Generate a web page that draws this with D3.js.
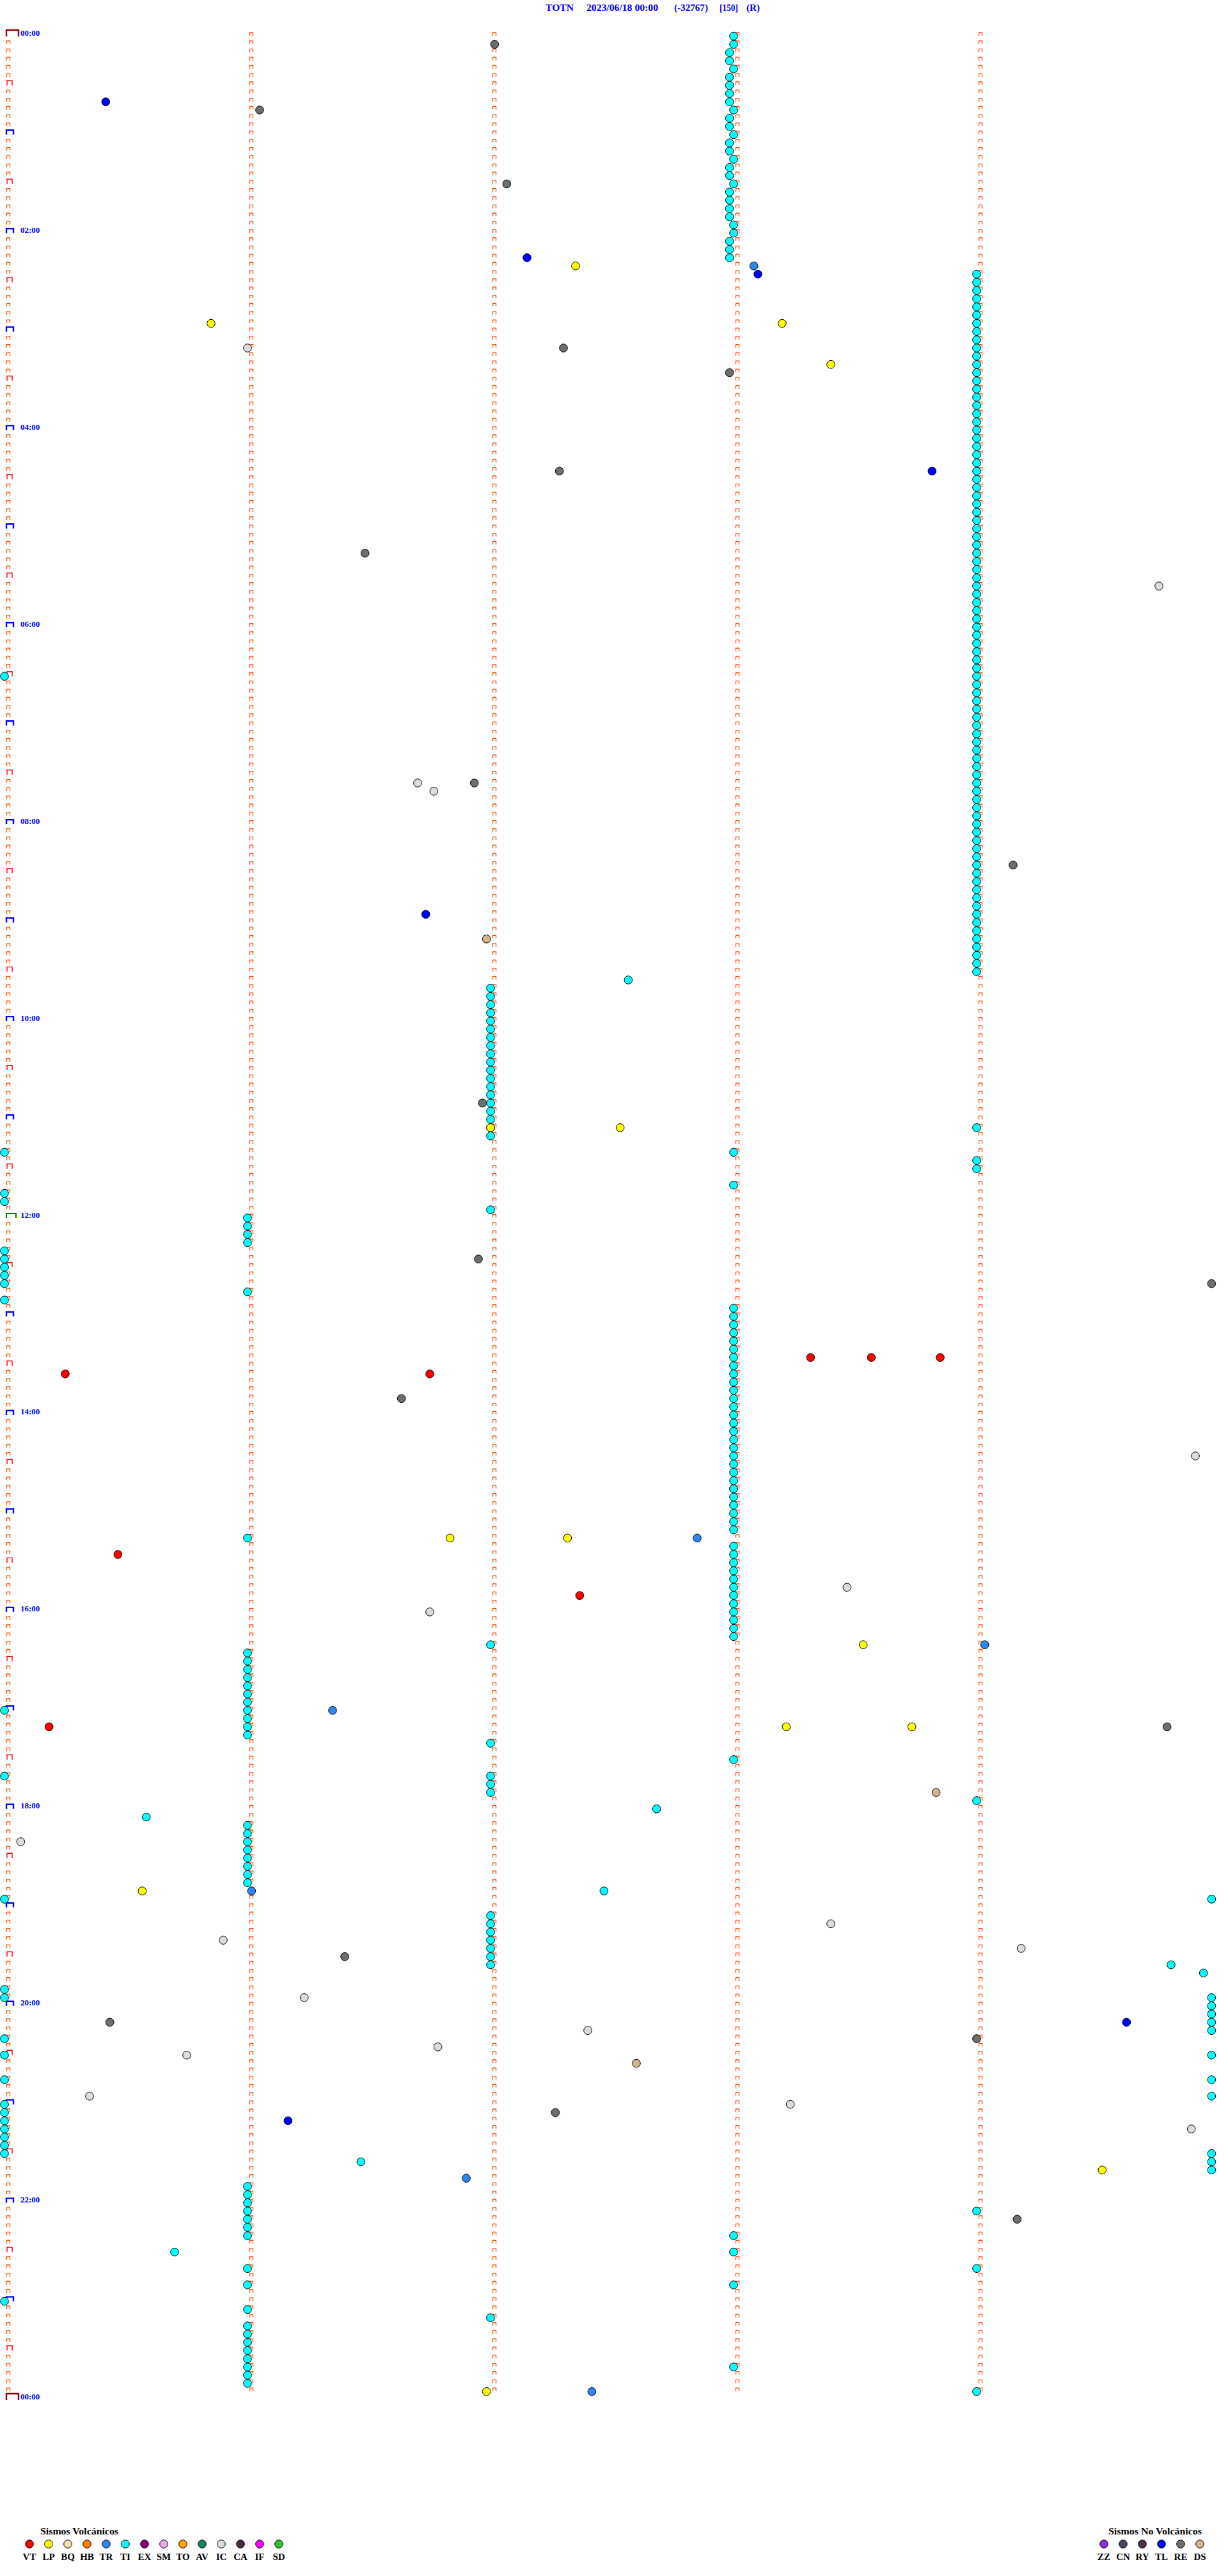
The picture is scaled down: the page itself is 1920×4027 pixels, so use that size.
<!DOCTYPE html>
<html><head><meta charset="utf-8">
<script src="https://cdn.jsdelivr.net/npm/d3@7"></script>
<style>body{margin:0;background:#fff}svg{display:block}</style>
</head><body><svg id="c" width="1920" height="4027"></svg>
<script>
// ---------------- DATA ----------------
const headerParts = ["TOTN", "2023/06/18 00:00", "(-32767)", "[150]", "(R)"];
const hourLabels = ["00:00","02:00","04:00","06:00","08:00","10:00","12:00","14:00","16:00","18:00","20:00","22:00","00:00"];
const rowMinutes = 5;          // each trace line spans 5 minutes
const rowCount = 288;          // 24 h
const volcCodes = ["VT","LP","BQ","HB","TR","TI","EX","SM","TO","AV","IC","CA","IF","SD"];
const nonVolcCodes = ["ZZ","CN","RY","TL","RE","DS"];

const eventsVT = ["13:28:19","13:28:34","13:28:51","13:35:15","13:36:45","15:25:28","15:52:22","17:10:11"];
const eventsLP = ["02:22:21","02:55:51","02:58:12","03:23:24","11:07:00","11:07:32","15:16:50","15:17:19",
  "16:23:32","17:13:13","17:13:44","18:50:34","21:44:31","23:56:59"];
const eventsTR = ["02:23:05","15:17:51","16:24:02","17:01:21","18:51:01","21:46:54","23:57:25"];
const eventsTI = (
  "00:03:00 00:08:00 00:12:59 00:17:59 00:23:00 00:27:59 00:32:59 00:37:59 00:42:59 00:48:00 00:52:59 00:57:59 " +
  "01:03:00 01:07:59 01:12:59 01:18:00 01:22:59 01:27:59 01:33:00 01:37:59 01:42:59 01:47:59 01:52:59 01:58:00 " +
  "02:03:00 02:07:59 02:12:59 02:17:59 " +
  "02:29:00 02:34:00 02:39:00 02:44:00 02:49:00 02:54:00 02:59:00 03:04:00 03:09:00 03:14:00 03:19:00 03:24:00 " +
  "03:29:00 03:34:00 03:39:00 03:44:00 03:49:00 03:54:00 03:59:00 04:04:00 04:09:00 04:14:00 04:19:00 04:24:00 " +
  "04:29:00 04:34:00 04:39:00 04:44:00 04:49:00 04:54:00 04:59:00 05:04:00 05:09:00 05:14:00 05:19:00 05:24:00 " +
  "05:29:00 05:34:00 05:39:00 05:44:00 05:49:00 05:54:00 05:59:00 06:04:00 06:09:00 06:14:00 06:19:00 06:24:00 " +
  "06:29:00 06:34:00 06:39:00 06:44:00 06:49:00 06:54:00 06:59:00 07:04:00 07:09:00 07:14:00 07:19:00 07:24:00 " +
  "07:29:00 07:34:00 07:39:00 07:44:00 07:49:00 07:54:00 07:59:00 08:04:00 08:09:00 08:14:00 08:19:00 08:24:00 " +
  "08:29:00 08:34:00 08:39:00 08:44:00 08:49:00 08:54:00 08:59:00 09:04:00 09:09:00 09:14:00 09:19:00 09:24:00 " +
  "09:29:00 09:34:00 " +
  "06:30:00 09:37:34 " +
  "09:42:00 09:47:00 09:52:00 09:57:00 10:02:00 10:07:00 10:12:00 10:17:00 10:22:00 10:27:00 10:32:00 10:37:00 " +
  "10:42:00 10:47:00 10:52:00 10:57:00 11:02:00 11:07:00 11:12:00 " +
  "11:09:00 11:20:00 11:23:00 11:29:00 11:34:00 11:43:00 11:45:00 11:50:00 11:57:00 " +
  "12:01:00 12:06:00 12:11:00 12:16:00 12:20:00 12:25:00 12:30:00 12:35:00 12:40:00 12:46:00 12:50:00 " +
  "12:58:00 13:03:00 13:08:00 13:13:00 13:18:00 13:23:00 13:28:00 13:33:00 13:38:00 13:43:00 13:48:00 13:53:00 " +
  "13:58:00 14:03:00 14:08:00 14:13:00 14:18:00 14:23:00 14:28:00 14:33:00 14:38:00 14:43:00 14:48:00 14:53:00 " +
  "14:58:00 15:03:00 15:08:00 15:13:00 15:23:00 15:28:00 15:33:00 15:38:00 15:43:00 15:48:00 " +
  "15:53:00 15:58:00 16:03:00 16:08:00 16:13:00 16:18:00 " +
  "15:16:00 16:22:00 " +
  "16:26:00 16:31:00 16:36:00 16:41:00 16:46:00 16:51:00 16:56:00 17:01:00 17:06:00 17:11:00 17:16:00 " +
  "17:00:00 17:22:00 17:33:00 17:40:00 17:42:00 17:47:00 17:52:00 17:59:00 18:02:41 18:05:35 " +
  "18:11:00 18:16:00 18:21:00 18:26:00 18:31:00 18:36:00 18:41:00 18:46:00 " +
  "18:52:28 18:55:00 18:59:58 " +
  "19:07:00 19:12:00 19:17:00 19:22:00 19:27:00 19:32:00 19:37:00 19:39:48 19:44:56 " +
  "19:50:00 19:55:00 19:59:58 20:04:58 20:09:58 20:14:58 20:19:58 20:20:00 20:30:00 20:34:58 20:45:00 20:49:58 " +
  "20:59:58 21:00:00 21:05:00 21:10:00 21:15:00 21:20:00 21:25:00 21:30:00 21:34:58 21:36:28 21:39:58 21:44:58 " +
  "21:51:00 21:56:00 22:01:00 22:06:00 22:11:00 22:16:00 22:21:00 22:09:00 22:23:00 22:30:42 22:33:00 " +
  "22:41:00 22:44:00 22:51:00 22:53:00 23:00:00 23:06:00 23:12:00 " +
  "23:16:00 23:21:00 23:26:00 23:31:00 23:36:00 23:41:00 23:46:00 23:51:00 23:43:00 23:59:00"
).split(" ");
const eventsTL = ["00:40:25","02:17:09","02:28:06","04:28:49","08:56:44","20:14:37","21:11:10"];
const eventsRE = ["00:07:01","00:46:03","01:32:04","03:12:18","03:27:59","04:27:17","05:16:29","07:36:56",
  "08:29:09","10:51:58","12:26:57","12:44:58","13:51:38","17:14:47","19:31:24","20:10:26","20:24:00",
  "21:07:16","22:14:10"];
const eventsIC = ["03:11:00","05:39:45","07:36:42","07:41:46","14:29:54","14:48:00","15:48:28","16:01:45",
  "18:20:04","19:13:24","19:20:54","19:29:11","19:56:14","20:17:24","20:26:47","20:30:45","20:55:21",
  "21:03:14","21:19:53"];
const eventsDS = ["09:11:59","17:53:50","20:37:36"];

// ---------------- STYLE ----------------
const typeColor = {
  VT:"#ff0000", LP:"#ffff00", BQ:"#f0e0a8", HB:"#ff8000", TR:"#2f86f0", TI:"#00ffff", EX:"#800080",
  SM:"#e8a8e8", TO:"#ffa500", AV:"#1e8060", IC:"#dcdcdc", CA:"#4a2a48", IF:"#ff00ff", SD:"#30c030",
  ZZ:"#9030d0", CN:"#504060", RY:"#503050", TL:"#0000ff", RE:"#6e6e6e", DS:"#d2b48c"
};
const serif = "'Liberation Serif','DejaVu Serif',serif";

// ---------------- SCALES ----------------
const svg = d3.select("#c");
const rowY = d3.scaleLinear().domain([0, rowCount]).range([56.5, 56.5 + rowCount * 12.83]);
const secX = d3.scaleLinear().domain([0, rowMinutes * 60]).range([10, 1910]);

// header
const headerX = [853, 917, 1054, 1125, 1167];
const headerW = [44, 112, 53, 29, 21];
svg.append("g").selectAll("text").data(headerParts).join("text")
  .attr("x", (d, i) => headerX[i]).attr("y", 17)
  .attr("textLength", (d, i) => headerW[i]).attr("lengthAdjust", "spacingAndGlyphs")
  .attr("font-family", serif).attr("font-weight", "bold").attr("font-size", 15)
  .attr("fill", "#0000ff").text(d => d);

// trace glyphs
const gTrace = svg.append("g").attr("fill", "none");
const cols = d3.range(rowMinutes);
const rows = d3.range(rowCount + 1);
function cup(x, b, w, h) { return `M${x},${b}L${x},${b - h}L${x + w},${b - h}L${x + w},${b}`; }
rows.forEach(r => {
  const b = rowY(r);
  cols.forEach(c => {
    const x = secX(c * 60);
    if (c === 0) {
      const minute = r * rowMinutes;
      if (minute % 1440 === 0) {
        gTrace.append("path").attr("d", cup(x, b + 0.5, 19, 10)).attr("stroke", "#8b0000").attr("stroke-width", 2.4);
      } else if (minute === 720) {
        gTrace.append("path").attr("d", cup(x, b, 15, 7)).attr("stroke", "#008000").attr("stroke-width", 2.2);
      } else if (minute % 60 === 0) {
        gTrace.append("path").attr("d", cup(x, b, 11, 7)).attr("stroke", "#0000ff").attr("stroke-width", 2.4);
      } else if (minute % 30 === 0) {
        gTrace.append("path").attr("d", cup(x + 1, b, 8, 7.5)).attr("stroke", "#ff0000").attr("stroke-width", 1.4);
      } else {
        gTrace.append("path").attr("d", cup(x + 0.5, b - 0.5, 5, 5)).attr("stroke", "#ff4a00").attr("stroke-width", 1.3);
      }
    } else if (r < rowCount) {
      gTrace.append("path").attr("d", cup(x + 0.5, b - 0.5, 5, 5)).attr("stroke", "#ff4a00").attr("stroke-width", 1.3);
    }
  });
});

// hour labels
svg.append("g").selectAll("text").data(hourLabels).join("text")
  .attr("x", 32).attr("y", (d, i) => rowY(i * 24) - 0.5)
  .attr("font-family", serif).attr("font-weight", "bold").attr("font-size", 13)
  .attr("fill", "#0000ff").text(d => d);

// events
function toSec(t) { const p = t.split(":").map(Number); return p[0] * 3600 + p[1] * 60 + p[2]; }
const rowSec = rowMinutes * 60;
const events = [];
[["RE", eventsRE], ["IC", eventsIC], ["DS", eventsDS], ["TL", eventsTL], ["TR", eventsTR],
 ["TI", eventsTI], ["LP", eventsLP], ["VT", eventsVT]].forEach(([type, list]) => {
  list.forEach(t => { const s = toSec(t); events.push({type, row: Math.floor(s / rowSec), off: s % rowSec}); });
});
svg.append("g").selectAll("circle").data(events).join("circle")
  .attr("cx", d => secX(d.off) - 3).attr("cy", d => rowY(d.row))
  .attr("r", 6.3).attr("fill", d => typeColor[d.type]).attr("stroke", "#000").attr("stroke-width", 1);

// legends
function legend(codes, title, titleX, titleW, x0) {
  const g = svg.append("g");
  g.append("text").attr("x", titleX).attr("y", 3962).attr("textLength", titleW).attr("lengthAdjust", "spacingAndGlyphs")
    .attr("font-family", serif).attr("font-weight", "bold").attr("font-size", 15).attr("fill", "#000").text(title);
  const lx = d3.scalePoint().domain(codes).range([x0, x0 + 30 * (codes.length - 1)]);
  g.selectAll("circle").data(codes).join("circle")
    .attr("cx", d => lx(d)).attr("cy", 3977).attr("r", 6.3)
    .attr("fill", d => typeColor[d]).attr("stroke", "#000").attr("stroke-width", 1);
  g.selectAll("text.l").data(codes).join("text").attr("class", "l")
    .attr("x", d => lx(d)).attr("y", 4002).attr("text-anchor", "middle")
    .attr("font-family", serif).attr("font-weight", "bold").attr("font-size", 15).attr("fill", "#000").text(d => d);
}
legend(volcCodes, "Sismos Volcánicos", 63, 122, 46);
legend(nonVolcCodes, "Sismos No Volcánicos", 1733, 146, 1726);
</script></body></html>
